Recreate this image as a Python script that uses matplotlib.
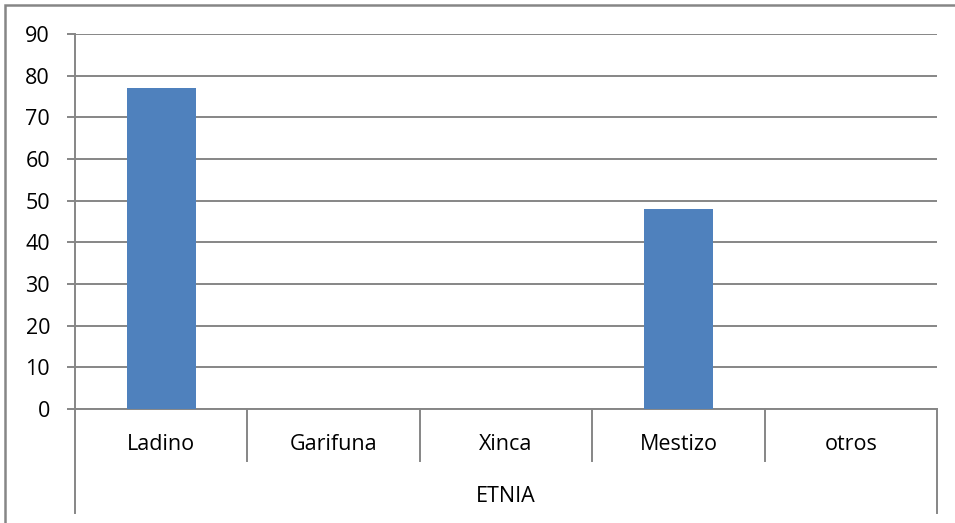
import matplotlib
matplotlib.use("Agg")
import matplotlib.pyplot as plt
from matplotlib.patches import Rectangle
import matplotlib.transforms as mtransforms

# datos
categorias = ["Ladino", "Garifuna", "Xinca", "Mestizo", "otros"]
valores = [77, 0, 0, 48, 0]
grupo = "ETNIA"
yticks = [0, 10, 20, 30, 40, 50, 60, 70, 80, 90]

W, H = 955, 523
fig = plt.figure(figsize=(W / 100, H / 100), dpi=100)
plt.rcParams['font.family'] = ['Open Sans', 'DejaVu Sans']

gris = "#868686"
fs = 15.5
x0, x1 = 75, 937
y_top, y_zero = 34, 409
ax = fig.add_axes([x0 / W, (H - y_zero) / H, (x1 - x0) / W, (y_zero - y_top) / H])

n = len(categorias)
ax.bar(range(n), valores, width=0.4, color="#4F81BD", zorder=3)
ax.set_xlim(-0.5, n - 0.5)
ax.set_ylim(0, 90)
ax.set_yticks(yticks)
ax.set_yticklabels([str(v) for v in yticks], fontsize=fs)
ax.tick_params(axis='y', length=6, color=gris, width=1.4, pad=12)
ax.set_xticks([])
ax.grid(axis='y', color=gris, linewidth=1.4, zorder=0)
for s in ["top", "right"]:
    ax.spines[s].set_visible(False)
ax.spines["bottom"].set_color(gris)
ax.spines["bottom"].set_linewidth(1.4)
ax.spines["left"].set_visible(False)

# ejes de categoria en varios niveles
trans = mtransforms.blended_transform_factory(ax.transData, fig.transFigure)
sep_bot = (H - 461) / H
out_bot = (H - 513) / H
zero = (H - y_zero) / H
top = (H - y_top) / H
for i in range(1, n):
    ax.plot([i - 0.5, i - 0.5], [zero, sep_bot], transform=trans, color=gris,
            linewidth=1.4, clip_on=False)
for xe in [-0.5, n - 0.5]:
    ax.plot([xe, xe], [top if xe < 0 else zero, out_bot], transform=trans,
            color=gris, linewidth=1.4, clip_on=False)
for i, c in enumerate(categorias):
    ax.text(i, (H - 445) / H, c, transform=trans, ha='center', va='center', fontsize=fs)
ax.text((n - 1) / 2, (H - 497) / H, grupo, transform=trans, ha='center', va='center',
        fontsize=fs)

# marco
fig.patches.append(Rectangle((5 / W, -0.1), 1.1, (H - 5) / H + 0.1, transform=fig.transFigure,
                             fill=False, edgecolor=gris, linewidth=1.8))

fig.savefig("out.png", dpi=100)
